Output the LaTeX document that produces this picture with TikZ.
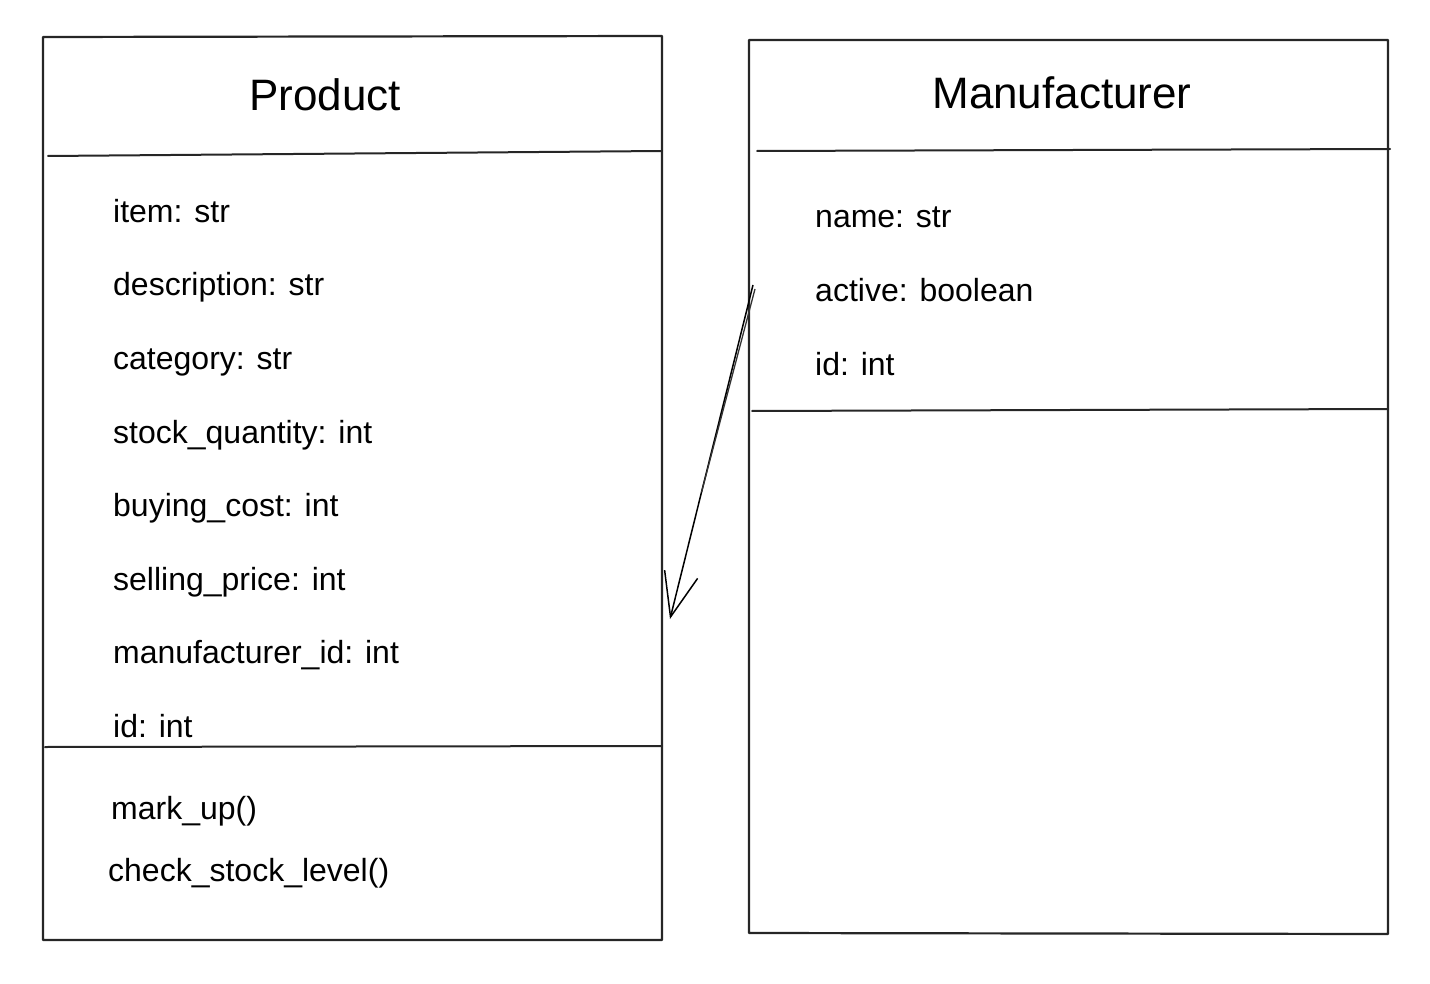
\documentclass[tikz,border=0pt]{standalone}
\usepackage{fontspec}
\setmainfont{Liberation Sans}
\usetikzlibrary{
    arrows.meta,
    positioning,
    calc
}
\tikzset{
    % Lines
    box line/.style={line width=2.2pt, black!85, line cap=round, line join=round},
    sep line/.style={line width=2pt, black!85, line cap=round},
    sketch stroke/.style={line width=1.3pt, black!80},
    %
    % Texts
    class title/.style={anchor=base, inner sep=0pt, font=\fontsize{44}{53}\selectfont},
    field/.style={anchor=base west, inner sep=0pt, font=\fontsize{32}{38}\selectfont},
    %
    % Arrows
    arrow tip/.tip={Straight Barb[length=44pt,width=34pt,line width=1.5pt]},
    assoc/.style={-{arrow tip}, line width=1.5pt, black}
}

\begin{document}
\begin{tikzpicture}[x=1pt,y=-1pt]
    \useasboundingbox (0,0) rectangle (1430,984);

    % Product
    \draw[box line] (43,37) -- (662,36) -- (662,940) -- (43,940) -- cycle;
    \draw[sep line] (48,156) -- (662,151);
    \draw[sep line] (45,747) -- (662,746);
    \node[class title] (product) at (325,111) {Product};
    \foreach \txt [count=\i] in {item: str, description: str, category: str,
        stock\_quantity: int, buying\_cost: int, selling\_price: int,
        manufacturer\_id: int, id: int}{
        \node[field] (p\i) at (113,222.5+73.5*\i-73.5) {\txt};
    }
    \node[field] (mark) at (111,819) {mark\_up()};
    \node[field] (check) at (108,881) {check\_stock\_level()};

    % Manufacturer
    \draw[box line] (749,40) -- (1388,40) -- (1388,934) -- (749,933) -- cycle;
    \draw[sep line] (757,151) -- (1390,149);
    \draw[sep line] (752,411) -- (1388,409);
    \node[class title] (manufacturer) at (1062,109) {Manufacturer};
    \foreach \txt [count=\i] in {name: str, active: boolean, id: int}{
        \node[field] (m\i) at (815,228+73.5*\i-73.5) {\txt};
    }

    % Association
    \coordinate (mfr link) at (753,285);
    \coordinate (mfr link2) at (755,289);
    \coordinate (prod link) at (670,619);
    \draw[assoc] (mfr link) -- (prod link);
    \draw[sketch stroke] (mfr link2) -- ($(mfr link)!0.62!(prod link)$);
\end{tikzpicture}
\end{document}
